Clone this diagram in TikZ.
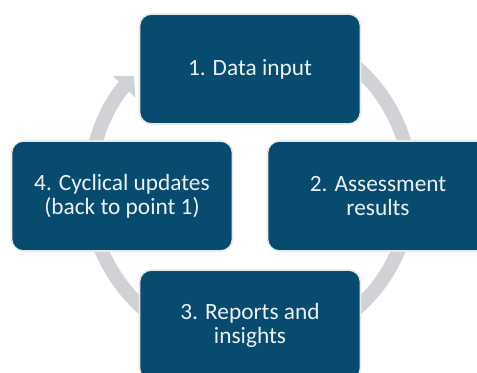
\documentclass[tikz,border=0pt]{standalone}
\usepackage{fontspec}
\setmainfont{Carlito}
\usepackage{xcolor}
\usetikzlibrary{arrows.meta}

\definecolor{boxblue}{RGB}{7,75,110}
\definecolor{ringgray}{RGB}{208,210,214}
\definecolor{boxtext}{RGB}{236,241,245}

\begin{document}
\begin{tikzpicture}[x=0.75pt,y=0.75pt,yscale=-1,xscale=1,
  stepbox/.style={draw={rgb, 255:red, 232; green, 233; blue, 235}, line width=1.2pt,
    fill=boxblue, rounded corners=9pt, minimum width=165.75pt, minimum height=82.5pt,
    align=center, text=boxtext, inner sep=0pt,
    font=\fontsize{17.5}{18}\selectfont},
  ring/.style={draw=ringgray, line width=10.5pt,
    -{Triangle[width=23pt,length=11pt]}}]
%set diagram to 477 x 373
\clip (0,0) rectangle (477,373);

%Circular Arrow
\coordinate (ringc) at (250,188);
\draw [ring] (ringc) ++(-80:161) arc[start angle=-80, end angle=224, radius=161];

%Rounded Rect
\node [stepbox] (data) at (250,69) {1. Data input};
%Rounded Rect
\node [stepbox] (assess) at (378,196) {2. Assessment\\results};
%Rounded Rect
\node [stepbox] (report) at (250,325) {3. Reports and\\insights};
%Rounded Rect
\node [stepbox] (update) at (122,196) {4. Cyclical updates\\(back to point 1)};

\end{tikzpicture}
\end{document}
